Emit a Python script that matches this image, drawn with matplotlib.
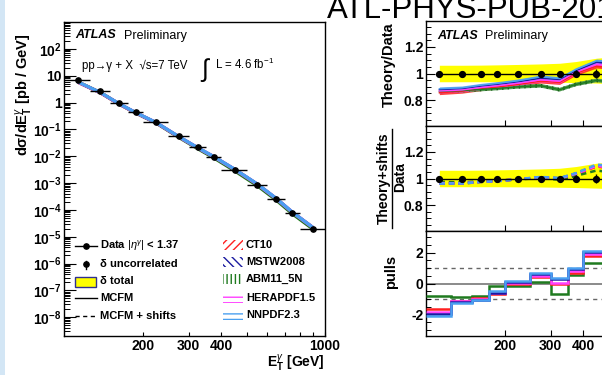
import numpy as np
import matplotlib
matplotlib.use('Agg')
import matplotlib.pyplot as plt
from matplotlib.patches import Rectangle
from matplotlib.lines import Line2D
from matplotlib.ticker import FixedLocator, FixedFormatter, NullLocator, LogLocator, MultipleLocator

plt.rcParams['font.family'] = ['Liberation Sans', 'DejaVu Sans']
plt.rcParams['mathtext.fontset'] = 'custom'
plt.rcParams['mathtext.rm'] = 'Liberation Sans'
plt.rcParams['mathtext.it'] = 'Liberation Sans:italic'
plt.rcParams['mathtext.bf'] = 'Liberation Sans:bold'
plt.rcParams['hatch.linewidth'] = 1.0

# ---------------- data ----------------
bin_edges = [100, 125, 150, 175, 200, 250, 300, 350, 400, 500, 600, 700, 800, 1000]
data_xsec = [6.7, 2.65, 0.98, 0.46, 0.19, 0.055, 0.0215, 0.0093, 0.0030,
             8.5e-4, 2.5e-4, 7.6e-5, 2.0e-5]
unc_uncorr = [0.012, 0.012, 0.013, 0.015, 0.016, 0.02, 0.022, 0.027, 0.034,
              0.045, 0.06, 0.08, 0.12]
tot_up = [0.062, 0.062, 0.063, 0.065, 0.068, 0.072, 0.077, 0.09, 0.115,
          0.13, 0.15, 0.17, 0.2]
tot_down = [0.062, 0.062, 0.062, 0.062, 0.063, 0.064, 0.066, 0.068, 0.072,
            0.08, 0.09, 0.1, 0.12]

pdf_names = ['CT10', 'MSTW2008', 'ABM11_5N', 'HERAPDF1.5', 'NNPDF2.3']
pdf_colors = ['#ff2020', '#1a1aa0', '#1f7a1f', '#ff40ff', '#4aa0f0']
pdf_hatches = ['////', '\\\\\\\\', '||||', '---', '---']

ratio_ct10 = [0.855, 0.866, 0.885, 0.898, 0.917, 0.942, 0.932, 1.0, 1.055, 1.04, 1.03, 1.05, 1.08]
ratio_mstw = [0.878, 0.885, 0.905, 0.918, 0.937, 0.965, 0.955, 1.02, 1.085, 1.07, 1.06, 1.07, 1.09]
ratio_abm = [0.865, 0.872, 0.88, 0.888, 0.9, 0.908, 0.878, 0.918, 0.948, 0.93, 0.92, 0.93, 0.95]
ratio_hera = [0.868, 0.876, 0.895, 0.908, 0.927, 0.952, 0.942, 1.01, 1.07, 1.05, 1.04, 1.06, 1.08]
ratio_nnpdf = [0.885, 0.892, 0.912, 0.925, 0.945, 0.975, 0.962, 1.03, 1.095, 1.08, 1.07, 1.08, 1.10]

shift_ct10 = [0.967, 0.965, 0.976, 0.982, 0.995, 1.008, 0.998, 1.032, 1.09, 1.07, 1.06, 1.07, 1.08]
shift_mstw = [0.962, 0.962, 0.974, 0.98, 0.994, 1.01, 1.002, 1.038, 1.10, 1.08, 1.07, 1.08, 1.09]
shift_abm = [0.975, 0.97, 0.98, 0.985, 0.993, 1.004, 0.99, 1.02, 1.06, 1.04, 1.03, 1.04, 1.05]
shift_hera = [0.965, 0.964, 0.975, 0.981, 0.995, 1.01, 1.0, 1.035, 1.095, 1.075, 1.065, 1.075, 1.085]
shift_nnpdf = [0.962, 0.963, 0.975, 0.98, 0.995, 1.012, 1.003, 1.04, 1.105, 1.085, 1.075, 1.085, 1.095]

pull_ct10 = [-1.67, -1.12, -0.95, -0.67, 0.0, 0.4, -0.04, 0.67, 1.78, 1.3, 0.9, 0.5, 0.6]
pull_mstw = [-2.0, -1.22, -1.1, -0.6, 0.11, 0.6, 0.27, 0.93, 2.05, 1.5, 1.1, 0.7, 0.8]
pull_abm = [-0.78, -0.89, -0.78, -0.18, -0.18, 0.11, -0.67, 0.55, 1.33, 0.8, 0.4, 0.1, 0.2]
pull_hera = [-1.85, -1.15, -1.0, -0.6, 0.05, 0.51, 0.04, 0.84, 1.89, 1.4, 1.0, 0.6, 0.7]
pull_nnpdf = [-2.1, -1.27, -1.04, -0.51, 0.16, 0.67, 0.33, 1.0, 2.11, 1.6, 1.2, 0.8, 0.9]

ratios = [ratio_ct10, ratio_mstw, ratio_abm, ratio_hera, ratio_nnpdf]
shifts = [shift_ct10, shift_mstw, shift_abm, shift_hera, shift_nnpdf]
pulls = [pull_ct10, pull_mstw, pull_abm, pull_hera, pull_nnpdf]

x_ticks = [200, 300, 400, 500, 600, 700, 800, 900, 1000]
x_ticklabels = ['200', '300', '400', '', '', '', '', '', '1000']

# ---------------- figure ----------------
W, H = 602, 375
fig = plt.figure(figsize=(W / 100, H / 100), dpi=100)
fig.patch.set_facecolor('white')


def fline(xs, ys, **kw):
    fig.add_artist(Line2D([x / W for x in xs], [1 - y / H for y in ys],
                          transform=fig.transFigure, **kw))


def frect(x0, y0, x1, y1, **kw):
    fig.add_artist(Rectangle((x0 / W, 1 - y1 / H), (x1 - x0) / W, (y1 - y0) / H,
                             transform=fig.transFigure, **kw))


def ftext(x, y, s, **kw):
    fig.text(x / W, 1 - y / H, s, **kw)


# light blue strip on the left
frect(0, 0, 5, H, facecolor='#d3e6f5', edgecolor='none')

edges = np.array(bin_edges, dtype=float)
xc = 0.5 * (edges[:-1] + edges[1:])
xlo = xc - edges[:-1]
xhi = edges[1:] - xc
dx = np.array(data_xsec)
unc = np.array(unc_uncorr)
tup = np.array(tot_up)
tdn = np.array(tot_down)

# ---------------- left panel ----------------
axL = fig.add_axes([64.4 / W, 1 - 336 / H, 260.6 / W, 314 / H])
axL.set_xscale('log')
axL.set_yscale('log')
axL.set_xlim(100, 1000)
axL.set_ylim(2e-9, 1e3)
axL.fill_between(xc, dx * (1 - tdn), dx * (1 + tup), color='yellow', lw=0, zorder=1)
for r, c in zip(ratios, pdf_colors):
    axL.plot(xc, dx * np.array(r), color=c, lw=2.3, zorder=2, solid_capstyle='butt')
axL.errorbar(xc, dx, xerr=[xlo, xhi], yerr=dx * unc, fmt='o', color='black',
             ms=3.8, lw=1.0, capsize=0, zorder=5, clip_on=True)

axL.xaxis.set_major_locator(FixedLocator(x_ticks))
axL.xaxis.set_major_formatter(FixedFormatter(x_ticklabels))
axL.xaxis.set_minor_locator(NullLocator())
ymaj = [10.0 ** k for k in range(-8, 3)]
ylab = ['$\\mathbf{10^{-%d}}$' % (-k) if k < 0 else ('1' if k == 0 else ('10' if k == 1 else '$\\mathbf{10^{2}}$'))
        for k in range(-8, 3)]
axL.yaxis.set_major_locator(FixedLocator(ymaj))
axL.yaxis.set_major_formatter(FixedFormatter(ylab))
axL.yaxis.set_minor_locator(LogLocator(base=10, subs=np.arange(2, 10), numticks=30))
axL.tick_params(axis='y', which='major', direction='in', length=8.5, width=0.8, pad=2,
                labelsize=10, right=False)
axL.tick_params(axis='y', which='minor', direction='in', length=4.3, width=0.7, right=False)
axL.tick_params(axis='x', which='major', direction='in', length=2.8, width=0.8, pad=2,
                labelsize=10, top=False)
for lab in axL.get_xticklabels() + axL.get_yticklabels():
    lab.set_fontweight('bold')
for s in axL.spines.values():
    s.set_linewidth(1.0)

ftext(24, 33, 'd\u03c3/dE$_{\\mathbf{T}}^{\\gamma}$ [pb / GeV]', rotation=90, ha='center',
      va='top', fontsize=10.5, fontweight='bold')
ftext(325, 368, 'E$_{\\mathbf{T}}^{\\gamma}$ [GeV]', ha='right', va='baseline',
      fontsize=10, fontweight='bold')

# ATLAS labels
ftext(75, 38.5, 'ATLAS', fontsize=9, fontweight='bold', style='italic', va='baseline')
ftext(124, 38.5, 'Preliminary', fontsize=9, va='baseline')
ftext(82, 69, 'pp\u2192\u03b3 + X  \u221as=7 TeV', fontsize=8.3, va='baseline')
ftext(201, 77, '\u222b', fontsize=18, va='baseline')
ftext(215, 69, 'L = 4.6 fb$^{-1}$', fontsize=8.3, va='baseline')

# legend (left column)
fs_leg = 8
fline([75, 97], [245.7, 245.7], color='black', lw=1.0)
fline([86], [245.7], color='black', marker='o', ms=3.8, lw=0)
ftext(100, 245.7, 'Data $|\\eta^{\\gamma}|$ < 1.37', fontsize=fs_leg, fontweight='bold', va='center')
fline([86, 86], [260.5, 268.5], color='black', lw=1.0)
fline([86], [264.3], color='black', marker='o', ms=3.8, lw=0)
ftext(100, 264.3, '\u03b4 uncorrelated', fontsize=fs_leg, fontweight='bold', va='center')
frect(75, 276.5, 96, 286.5, facecolor='yellow', edgecolor='#303090', lw=1.0)
ftext(100, 281, '\u03b4 total', fontsize=fs_leg, fontweight='bold', va='center')
fline([75, 97], [298.3, 298.3], color='black', lw=1.0)
ftext(100, 298.3, 'MCFM', fontsize=fs_leg, fontweight='bold', va='center')
fline([75, 97], [316, 316], color='black', lw=1.0, ls=(0, (3, 2.5)))
ftext(100, 316, 'MCFM + shifts', fontsize=fs_leg, fontweight='bold', va='center')

# legend (right column)
leg_y = [245, 261.7, 279, 297.7, 315]
for name, c, h, yy in zip(pdf_names, pdf_colors, pdf_hatches, leg_y):
    frect(223, yy - 5, 243, yy + 5, facecolor='white', edgecolor=c, hatch=h, lw=0)
    ftext(246, yy, name, fontsize=fs_leg, fontweight='bold', va='center')

# ---------------- right panels ----------------
x0r, wr = 426, 261
ax1 = fig.add_axes([x0r / W, 1 - 126 / H, wr / W, 105 / H])
ax2 = fig.add_axes([x0r / W, 1 - 231 / H, wr / W, 105 / H])
ax3 = fig.add_axes([x0r / W, 1 - 336 / H, wr / W, 105 / H])

for ax in (ax1, ax2, ax3):
    ax.set_xscale('log')
    ax.set_xlim(100, 1000)
    ax.xaxis.set_major_locator(FixedLocator(x_ticks))
    ax.xaxis.set_minor_locator(NullLocator())
    ax.tick_params(axis='x', which='major', direction='in', length=4, width=0.8, top=False,
                   pad=2.5, labelsize=10)
    ax.tick_params(axis='y', which='major', direction='in', length=6.5, width=0.8, right=False,
                   pad=2, labelsize=10)
    ax.tick_params(axis='y', which='minor', direction='in', length=3.3, width=0.7, right=False)
    for s in ax.spines.values():
        s.set_linewidth(1.0)

for ax in (ax1, ax2):
    ax.set_ylim(0.605, 1.395)
    ax.yaxis.set_major_locator(FixedLocator([0.8, 1.0, 1.2]))
    ax.yaxis.set_major_formatter(FixedFormatter(['0.8', '1', '1.2']))
    ax.yaxis.set_minor_locator(MultipleLocator(0.05))
    ax.xaxis.set_major_formatter(FixedFormatter([''] * len(x_ticks)))
    ax.fill_between(xc, 1 - tdn, 1 + tup, color='yellow', lw=0, zorder=1)

# top ratio: theory bands
for i, (r, c, h) in enumerate(zip(ratios, pdf_colors, pdf_hatches)):
    r = np.array(r)
    if pdf_names[i] == 'ABM11_5N':
        ax1.fill_between(xc, r - 0.014, r + 0.014, facecolor='#4f9a4f', edgecolor='#1a5a1a',
                         hatch='|||', lw=0, zorder=2)
    else:
        ax1.fill_between(xc, r - 0.014, r + 0.014, facecolor=c, edgecolor=c, lw=0,
                         alpha=0.85, zorder=2)
    ax1.plot(xc, r, color=c, lw=1.0, zorder=3)
# shifted dashed
for r, c in zip(shifts, pdf_colors):
    ax2.plot(xc, r, color=c, lw=1.8, ls=(0, (2.2, 1.6)), zorder=3)

for ax in (ax1, ax2):
    ax.plot(xc, np.ones_like(xc), color='black', lw=1.0, zorder=4)
    ax.errorbar(xc, np.ones_like(xc), yerr=unc, fmt='o', color='black', ms=4.2, lw=1.0,
                capsize=0, zorder=5)

# pulls
ax3.set_ylim(-3.4, 3.4)
ax3.yaxis.set_major_locator(FixedLocator([-2, 0, 2]))
ax3.yaxis.set_major_formatter(FixedFormatter(['-2', '0', '2']))
ax3.yaxis.set_minor_locator(MultipleLocator(0.5))
ax3.xaxis.set_major_formatter(FixedFormatter(x_ticklabels))
ax3.axhline(0, color='#777777', lw=1.2, zorder=1)
ax3.axhline(1, color='#666666', lw=1.0, ls=(0, (3, 3)), zorder=1)
ax3.axhline(-1, color='#666666', lw=1.0, ls=(0, (3, 3)), zorder=1)
for idx in [2, 0, 3, 1, 4]:
    ax3.stairs(pulls[idx], edges, color=pdf_colors[idx], lw=1.8, baseline=None, zorder=3)

for ax in (ax1, ax2, ax3):
    for lab in ax.get_xticklabels() + ax.get_yticklabels():
        lab.set_fontweight('bold')

ftext(437, 39.3, 'ATLAS', fontsize=9, fontweight='bold', style='italic', va='baseline')
ftext(485, 39.3, 'Preliminary', fontsize=9, va='baseline')

ftext(389, 22, 'Theory/Data', rotation=90, ha='center', va='top', fontsize=10.5, fontweight='bold')
ftext(383.5, 178, 'Theory+shifts', rotation=90, ha='center', va='center', fontsize=10, fontweight='bold')
fline([391.7, 391.7], [129, 228], color='black', lw=1.0)
ftext(400, 177, 'Data', rotation=90, ha='center', va='center', fontsize=10, fontweight='bold')
ftext(391, 272, 'pulls', rotation=90, ha='center', va='center', fontsize=10.5, fontweight='bold')

# title (cut off at the right edge, as in the reference)
ftext(327, 17.5, 'ATL-PHYS-PUB-2013-018', fontsize=22.5, va='baseline', ha='left')

fig.savefig('out.png', dpi=100)
